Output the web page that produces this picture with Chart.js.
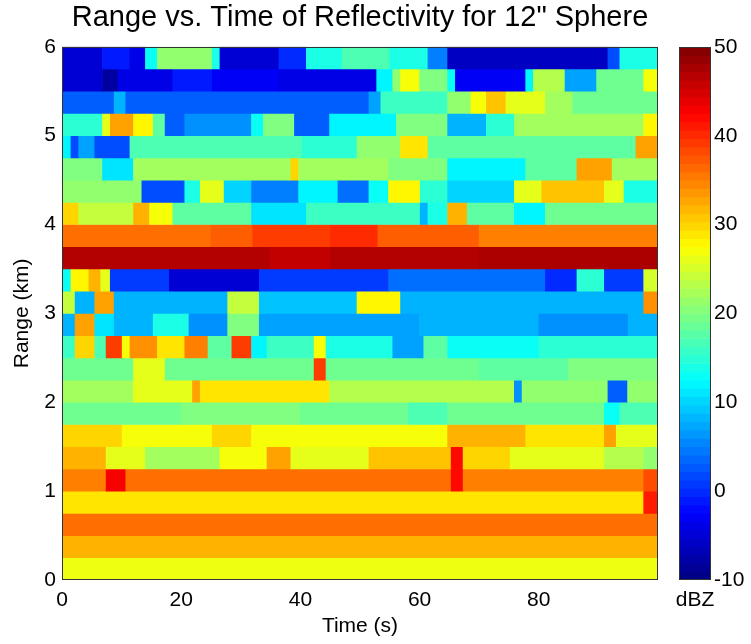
<!DOCTYPE html>
<html lang="en">
<head>
    <meta charset="UTF-8">
    <title>Range vs. Time of Reflectivity for 12" Sphere</title>
    <style>
        body { margin: 0; background: #fff; font-family: "Liberation Sans", Arial, sans-serif; }
        #wrap { position: relative; width: 751px; height: 644px; }
        #mainChart { position: absolute; left: 0; top: 0; }
        #barChart { position: absolute; left: 655px; top: 0; }
    </style>
    <script src="https://cdn.jsdelivr.net/npm/chart.js"></script>
</head>
<body>
<div id="wrap">
    <canvas id="mainChart" width="751" height="644"></canvas>
    <canvas id="barChart" width="96" height="644"></canvas>
</div>

<script>
    // range bins are 0.25 km, time axis 0..100 s
    const binSize = 0.25;
    const timeEnd = 100;
    const xTicks = [0, 20, 40, 60, 80];
    const yTicks = [0, 1, 2, 3, 4, 5, 6];
    const cMin = -10, cMax = 50;
    const cTicks = [-10, 0, 10, 20, 30, 40, 50];

    // each row: [segment start time (s), dBZ], row01 = 0-0.25 km ... row24 = 5.75-6 km
    const row01 = [[0, 26.5]];
    const row02 = [[0, 32]];
    const row03 = [[0, 36]];
    const row04 = [[0, 29], [97.6, 41]];
    const row05 = [[0, 35], [7.4, 43], [10.7, 36], [65.3, 42], [67.3, 35], [97.6, 38]];
    const row06 = [[0, 32], [7.4, 26], [14, 22], [26.5, 27], [34.4, 33], [38.4, 26], [51.5, 31], [65.3, 42], [67.3, 30], [75.2, 26], [91, 23], [97.6, 21]];
    const row07 = [[0, 30], [10.1, 27], [25.2, 30], [31.8, 27], [64.7, 32], [77.8, 29], [91, 33], [93, 26]];
    const row08 = [[0, 19], [20, 20], [40, 19], [58.1, 17], [64.7, 19], [91, 13], [93.6, 17]];
    const row09 = [[0, 22], [12, 26], [21.9, 33], [23.2, 29], [44.9, 23], [75.9, 6], [77.2, 21], [91.6, 3], [94.9, 21]];
    const row10 = [[0, 19], [12, 26], [17.3, 19], [42.3, 39], [44.3, 19], [70, 18], [85, 20]];
    const row11 = [[0, 16], [2.2, 30], [5.5, 17], [7.4, 39], [10.1, 27], [11.4, 34], [16, 29], [20.6, 35], [24.5, 18], [28.5, 39], [31.8, 12], [34.4, 16], [42.3, 27], [44.3, 14], [55.5, 7], [60.7, 18], [64.7, 13], [80, 15]];
    const row12 = [[0, 8], [2.2, 33], [5.5, 11], [8.75, 8], [15.3, 14], [21.3, 6], [27.8, 20], [33.1, 7], [60, 8], [80, 6], [95, 8]];
    const row13 = [[0, 24], [2.2, 8], [5.5, 33], [8.75, 8], [27.8, 24], [33.1, 9], [49.5, 28], [56.8, 8], [97.6, 34]];
    const row14 = [[0, 13], [1.5, 28], [4.5, 32], [6.5, 26], [8.1, 1], [18, -5], [33.1, 1], [54.8, 4], [81.1, 0], [86.4, 15], [91, 1], [97.6, 25]];
    const row15 = [[0, 47], [35, 46], [45, 47], [70, 47.5]];
    const row16 = [[0, 36], [25, 37], [32, 39], [45, 40], [53, 37], [70, 35]];
    const row17 = [[0, 30], [2.8, 24], [12, 32], [14.7, 27], [18.6, 18], [31.8, 11], [41, 16], [60.1, 8], [61.4, 14], [64.7, 32], [68, 18], [75.9, 12], [81.1, 19]];
    const row18 = [[0, 21], [13.4, 2], [20.6, 14], [23.2, 26], [27.2, 10], [31.8, 5], [39.7, 12], [46.3, 4], [51.5, 13], [54.8, 28], [60.1, 15], [64.7, 10], [75.9, 26], [80.5, 31], [91, 26], [94.3, 14]];
    const row19 = [[0, 20], [6.8, 11], [12, 22], [38.4, 30], [39.7, 22], [54.8, 20], [64.7, 12], [77.8, 18], [86.4, 33], [92.3, 22]];
    const row20 = [[0, 12], [1.5, 2], [2.8, 7], [5.5, 2], [11.4, 17], [40.3, 15], [49.5, 21], [56.8, 29], [61.4, 18], [96.3, 33]];
    const row21 = [[0, 15], [6.8, 26], [8.1, 33], [12, 28], [15.3, 18], [17.3, 3], [20.6, 6], [31.8, 13], [33.8, 20], [39, 3], [44.9, 12], [56.1, 20], [64.7, 8], [71.2, 15], [75.9, 22], [97.6, 28]];
    const row22 = [[0, 3], [8.75, 8], [10.7, 3], [51.5, 7], [53.5, 16], [64.7, 21], [68.6, 27], [71.2, 31], [74.5, 26], [81.1, 22], [85.7, 19]];
    const row23 = [[0, -5], [6.8, -8], [9.4, -4], [18.6, -1], [25.2, -3], [36.4, -4], [52.8, 12], [55.5, 21], [56.8, 27], [60, 20], [64.7, 13], [66, -3], [77.8, 12], [79.1, 23], [84.4, 7], [89.7, 19], [97.6, 27]];
    const row24 = [[0, -5], [6.8, -1], [11.4, -4], [14, 13], [16, 21], [25.2, 14], [26.5, -5], [36.4, 0], [41, 14], [47, 17], [55, 14], [61.4, 5], [64.7, -6], [91.6, 2], [93.6, 14]];

    const rows = [row01, row02, row03, row04, row05, row06, row07, row08, row09, row10, row11, row12,
                  row13, row14, row15, row16, row17, row18, row19, row20, row21, row22, row23, row24];

    // MATLAB jet colormap
    function clamp01(v) { return Math.max(0, Math.min(1, v)); }
    function jet(v) {
        const x = clamp01((v - cMin) / (cMax - cMin));
        const r = clamp01(Math.min(4 * x - 1.5, -4 * x + 4.5));
        const g = clamp01(Math.min(4 * x - 0.5, -4 * x + 3.5));
        const b = clamp01(Math.min(4 * x + 0.5, -4 * x + 2.5));
        return `rgb(${Math.round(r * 255)},${Math.round(g * 255)},${Math.round(b * 255)})`;
    }

    // build the floating bars (one per segment)
    const cells = [];
    rows.forEach((row, i) => {
        row.forEach((seg, j) => {
            const t1 = j + 1 < row.length ? row[j + 1][0] : timeEnd;
            cells.push({ x: [seg[0], t1], y: (i + 0.5) * binSize, v: seg[1] });
        });
    });

    const fontFam = '"Liberation Sans", Arial, sans-serif';
    const tickFont = { family: fontFam, size: 21 };

    const frame = {
        id: 'frame',
        afterDatasetsDraw(chart) {
            const { ctx, chartArea: a } = chart;
            ctx.save();
            ctx.strokeStyle = '#333';
            ctx.lineWidth = 1;
            ctx.strokeRect(Math.round(a.left) + 0.5, Math.round(a.top) + 0.5, Math.round(a.width) - 1, Math.round(a.height) - 1);
            ctx.restore();
        }
    };

    new Chart(document.getElementById('mainChart'), {
        type: 'bar',
        data: {
            datasets: [{
                data: cells,
                backgroundColor: c => jet(c.raw.v),
                borderWidth: 0,
                barPercentage: 1,
                categoryPercentage: 1
            }]
        },
        options: {
            indexAxis: 'y',
            responsive: false,
            animation: false,
            layout: { padding: { left: 0, right: 93, top: 0, bottom: 0 } },
            plugins: {
                legend: { display: false },
                tooltip: { enabled: false },
                title: {
                    display: true,
                    fullSize: false,
                    text: 'Range vs. Time of Reflectivity for 12" Sphere',
                    color: '#000',
                    font: { family: fontFam, size: 29, weight: 'normal' },
                    padding: { top: 1, bottom: 11 }
                }
            },
            scales: {
                x: {
                    type: 'linear',
                    min: 0,
                    max: timeEnd,
                    afterBuildTicks: s => { s.ticks = xTicks.map(v => ({ value: v })); },
                    afterFit: s => { s.height = 64; },
                    grid: { display: false, drawTicks: false },
                    border: { display: false },
                    ticks: { color: '#000', font: tickFont, padding: 8, maxRotation: 0 },
                    title: { display: true, text: 'Time (s)', color: '#000', font: tickFont, padding: { top: 0, bottom: 5 } }
                },
                y: {
                    type: 'linear',
                    min: 0,
                    max: 6,
                    offset: false,
                    afterBuildTicks: s => { s.ticks = yTicks.map(v => ({ value: v })); },
                    afterFit: s => { s.width = 62; },
                    grid: { display: false, drawTicks: false },
                    border: { display: false },
                    ticks: { color: '#000', font: tickFont, padding: 6 },
                    title: { display: true, text: 'Range (km)', color: '#000', font: tickFont, padding: { top: 10, bottom: 0 } }
                }
            }
        },
        plugins: [frame]
    });

    // colorbar: 64 jet levels stacked as floating bars
    const cbarLevels = 64;
    const cbarCells = [];
    for (let k = 0; k < cbarLevels; k++) {
        const lo = cMin + (cMax - cMin) * k / cbarLevels;
        const hi = cMin + (cMax - cMin) * (k + 1) / cbarLevels;
        cbarCells.push({ x: 'dBZ', y: [lo, hi], v: (lo + hi) / 2 });
    }

    new Chart(document.getElementById('barChart'), {
        type: 'bar',
        data: {
            labels: ['dBZ'],
            datasets: [{
                data: cbarCells,
                backgroundColor: c => jet(c.raw.v),
                borderWidth: 0,
                barPercentage: 1,
                categoryPercentage: 1
            }]
        },
        options: {
            responsive: false,
            animation: false,
            layout: { padding: { left: 24, right: 0, top: 47, bottom: 0 } },
            plugins: { legend: { display: false }, tooltip: { enabled: false } },
            scales: {
                x: {
                    type: 'category',
                    afterFit: s => { s.height = 64; },
                    grid: { display: false, drawTicks: false },
                    border: { display: false },
                    ticks: { color: '#000', font: tickFont, padding: 8 }
                },
                y: {
                    position: 'right',
                    min: cMin,
                    max: cMax,
                    afterBuildTicks: s => { s.ticks = cTicks.map(v => ({ value: v })); },
                    afterFit: s => { s.width = 40; },
                    grid: { display: false, drawTicks: false },
                    border: { display: false },
                    ticks: { color: '#000', font: tickFont, padding: 3 }
                }
            }
        },
        plugins: [frame]
    });
</script>
</body>
</html>
